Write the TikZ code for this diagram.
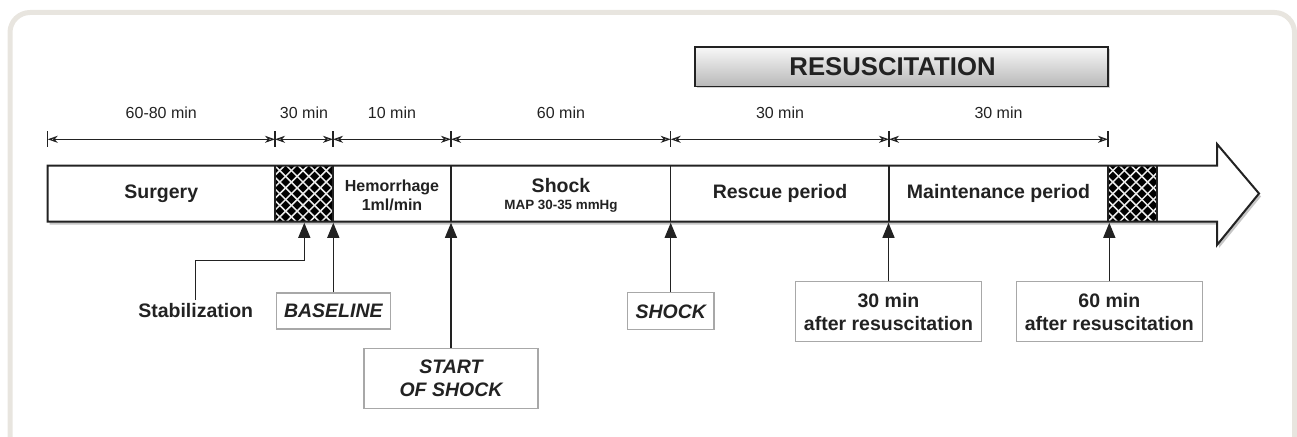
\documentclass[tikz,border=0pt]{standalone}
\usepackage{fontspec}
\setmainfont{Liberation Sans}
\usetikzlibrary{arrows.meta,shadows,calc}
\definecolor{ink}{HTML}{222222}
\definecolor{frameC}{HTML}{E8E5DF}
\definecolor{boxC}{HTML}{A8A8A8}
\begin{document}
\begin{tikzpicture}[x=1pt,y=-1pt,
  big/.style={font=\fontsize{19.5}{23}\selectfont\bfseries, text=ink, align=center, inner sep=0pt},
  midf/.style={font=\fontsize{16}{19}\selectfont\bfseries, text=ink, align=center, inner sep=0pt},
  small/.style={font=\fontsize{13.4}{16}\selectfont\bfseries, text=ink, inner sep=0pt},
  dimlab/.style={font=\fontsize{16}{19}\selectfont, text=ink, inner sep=0pt},
  lbox/.style={draw=boxC, line width=1.3pt, fill=white, font=\fontsize{19.5}{23}\selectfont\bfseries,
    text=ink, align=center, inner sep=0pt},
  ptr/.style={draw=ink, line width=1.4pt, -{Triangle[length=15pt,width=12pt]}},
  dimline/.style={draw=ink, line width=1.2pt, {Stealth[open,length=10pt,width=7pt,inset=3pt]}-{Stealth[open,length=10pt,width=7pt,inset=3pt]}},
  tick/.style={draw=ink, line width=1.2pt},
  hatchline/.style={draw=white!92!black, line width=1.5pt}
]
\useasboundingbox (0,0) rectangle (1297,436);
% outer frame
\begin{scope}
\clip (0,0) rectangle (1297,436);
\draw[frameC, line width=5pt, rounded corners=20pt] (10,470) -- (10,12.5) -- (1294.5,12.5) -- (1294.5,470);
\end{scope}

% resuscitation box
\node[draw=ink, line width=1.4pt, top color=gray!6, bottom color=gray!55,
      minimum width=413pt, minimum height=39pt, inner sep=0pt,
      drop shadow={shadow xshift=1.5pt, shadow yshift=-2pt, opacity=.35},
      font=\fontsize{25.7}{30}\selectfont\bfseries, text=ink] (resus) at (901.5,66.7) {RESUSCITATION\hspace*{18pt}};

% dimension coordinates
\coordinate (d0) at (47.7,139.3);
\coordinate (d1) at (275,139.3);
\coordinate (d2) at (333,139.3);
\coordinate (d3) at (451,139.3);
\coordinate (d4) at (670.7,139.3);
\coordinate (d5) at (889,139.3);
\coordinate (d6) at (1108,139.3);
\foreach \p in {d0,d1,d2,d3,d4,d5,d6} {
  \draw[tick] ($(\p)+(0,-8)$) -- ($(\p)+(0,8)$);
}
\draw[dimline] (d0) -- (d1);
\draw[dimline] (d1) -- (d2);
\draw[dimline] (d2) -- (d3);
\draw[dimline] (d3) -- (d4);
\draw[dimline] (d4) -- (d5);
\draw[dimline] (d5) -- (d6);
\node[dimlab] (l1) at (161.3,112.7) {60-80 min};
\node[dimlab] (l2) at (304,112.7) {30 min};
\node[dimlab] (l3) at (392,112.7) {10 min};
\node[dimlab] (l4) at (561,112.7) {60 min};
\node[dimlab] (l5) at (780,112.7) {30 min};
\node[dimlab] (l6) at (998.5,112.7) {30 min};

% main bar with arrow
\path[fill=white, drop shadow={shadow xshift=2pt, shadow yshift=-3pt, opacity=.45}]
  (47.7,165.7) -- (1217,165.7) -- (1217,144) -- (1259,193.5) -- (1217,245) -- (1217,221.7) -- (47.7,221.7) -- cycle;

% hatched blocks
\begin{scope}
\clip (275,165.7) rectangle (333,221.7);
\fill[black] (275,165.7) rectangle (333,221.7);
\foreach \i in {-6,...,6} {
  \draw[hatchline] (275+\i*11.6,165.7) -- ++(58,58);
  \draw[hatchline] (275+\i*11.6,221.7) -- ++(58,-58);
}
\end{scope}
\begin{scope}
\clip (1108,165.7) rectangle (1157,221.7);
\fill[black] (1108,165.7) rectangle (1157,221.7);
\foreach \i in {-6,...,6} {
  \draw[hatchline] (1108+\i*11.6,165.7) -- ++(58,58);
  \draw[hatchline] (1108+\i*11.6,221.7) -- ++(58,-58);
}
\end{scope}
\draw[ink, line width=1.4pt] (275,165.7) -- (275,221.7) (333,165.7) -- (333,221.7)
  (1108,165.7) -- (1108,221.7) (1157,165.7) -- (1157,221.7);
% dividers
\draw[ink, line width=1.5pt] (451,165.7) -- (451,221.7) (670.7,165.7) -- (670.7,221.7) (889,165.7) -- (889,221.7);
% outline
\draw[ink, line width=2pt, line join=miter]
  (47.7,165.7) -- (1217,165.7) -- (1217,144) -- (1259,193.5) -- (1217,245) -- (1217,221.7) -- (47.7,221.7) -- cycle;

% bar texts
\node[big] (surg) at (161.3,193.7) {Surgery};
\node[midf] (hem) at (392,195.5) {Hemorrhage\\1ml/min};
\node[big] (shk) at (561,186) {Shock};
\node[small] (map) at (561,206.7) {MAP 30-35 mmHg};
\node[big] (resc) at (780,193.5) {Rescue period};
\node[big] (maint) at (998.5,193.5) {Maintenance period};

% pointer targets
\coordinate (tS) at (304.3,222.8);
\coordinate (tB) at (333.3,222.8);
\coordinate (tSS) at (451,222.8);
\coordinate (tK) at (670.7,222.8);
\coordinate (t30) at (888.5,222.8);
\coordinate (t60) at (1109.3,222.8);
\coordinate (stabk) at (304.3,260.7);

% labels
\node[big, inner ysep=4pt] (stab) at (195.7,311) {Stabilization};
\node[lbox, minimum width=114pt, minimum height=36pt] (base) at (333.3,311) {\itshape BASELINE};
\node[lbox, minimum width=174pt, minimum height=60pt] (sos) at (451,378.3) {\itshape START\\\itshape OF SHOCK};
\node[lbox, minimum width=86.6pt, minimum height=37pt] (shock) at (670.7,311.3) {\itshape SHOCK};
\node[lbox, minimum width=185.6pt, minimum height=60pt] (m30) at (888.5,311.7) {30 min\\after resuscitation};
\node[lbox, minimum width=186pt, minimum height=60pt] (m60) at (1109.3,311.7) {60 min\\after resuscitation};

% pointers
\draw[ptr] (stab.north) |- (stabk) -- (tS);
\draw[ptr] (base.north) -- (tB);
\draw[ptr] (sos.north) -- (tSS);
\draw[ptr] (shock.north) -- (tK);
\draw[ptr] (m30.north) -- (t30);
\draw[ptr] (m60.north) -- (t60);
\end{tikzpicture}
\end{document}
